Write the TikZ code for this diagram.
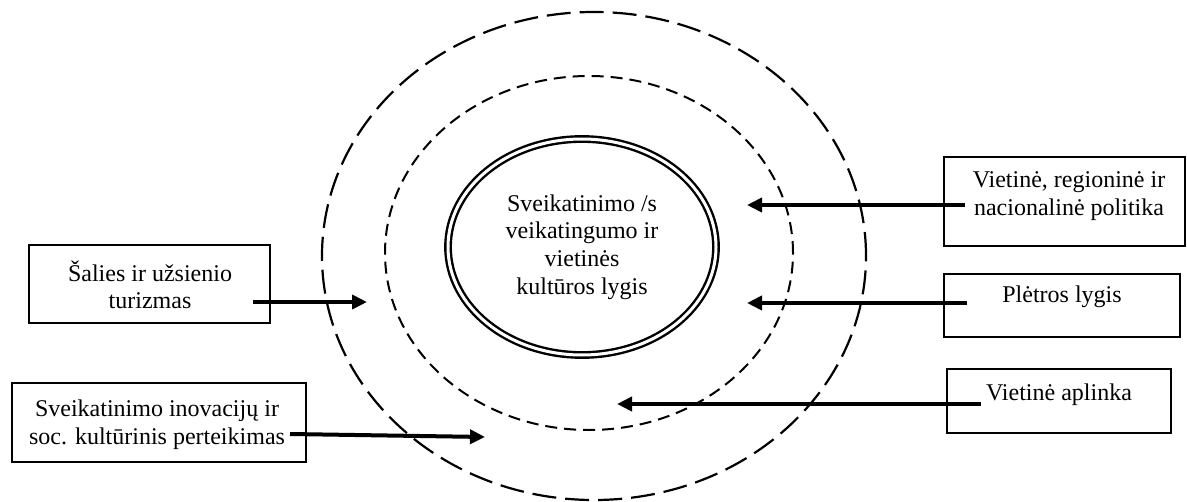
\documentclass[tikz,border=0pt]{standalone}
\usepackage{fontspec}
\setmainfont{Liberation Serif}
\usetikzlibrary{shapes.geometric,arrows.meta}
\begin{document}
\begin{tikzpicture}[x=0.5pt,y=-0.5pt,
  txt/.style={font=\fontsize{12pt}{13.8pt}\selectfont,align=center,inner sep=0pt},
  box/.style={draw,line width=0.6pt,inner sep=0pt},
  outerring/.style={draw,ellipse,inner sep=0pt,line width=1.1pt,dash pattern=on 12pt off 4.5pt},
  innerring/.style={draw,ellipse,inner sep=0pt,line width=1pt,dash pattern=on 6pt off 3.5pt},
  core/.style={draw,ellipse,inner sep=0pt,double,line width=1.2pt,double distance=1.5pt,font=\fontsize{12pt}{13.8pt}\selectfont,align=center},
  arr/.style={-{Triangle[length=7.5pt,width=7pt]},line width=2pt}]
\useasboundingbox (0,0) rectangle (1187,502);

% rings
\node[outerring,minimum width=272pt,minimum height=244pt] (outer) at (594,256) {};
\node[innerring,minimum width=204pt,minimum height=177pt] (inner) at (589,253) {};
\node[core,minimum width=134pt,minimum height=108pt] (core) at (582,247)
  {Sveikatinimo /s\\veikatingumo ir\\vietinės\\kultūros lygis};

% boxes
\node[box,minimum width=120.5pt,minimum height=39pt] (b1) at (149.5,284) {};
\node[txt] (t1) at (150,285) {Šalies ir užsienio\\turizmas};
\node[box,minimum width=147pt,minimum height=39.5pt] (b2) at (159,422.5) {};
\node[txt] (t2) at (157,425) {Sveikatinimo inovacijų ir\\soc. kultūrinis perteikimas};
\node[box,minimum width=120.5pt,minimum height=44.5pt] (b3) at (1064.5,201.5) {};
\node[txt] (t3) at (1069,196) {Vietinė, regioninė ir\\nacionalinė politika};
\node[box,minimum width=118pt,minimum height=31.5pt] (b4) at (1062,305.5) {};
\node[txt] (t4) at (1062,297) {Plėtros lygis};
\node[box,minimum width=112pt,minimum height=32pt] (b5) at (1059,401) {};
\node[txt] (t5) at (1059,395) {Vietinė aplinka};

% arrow end points
\coordinate (s1) at (253,302); \coordinate (e1) at (367,302);
\coordinate (s2) at (290,434); \coordinate (e2) at (485,437);
\coordinate (s3) at (965,205); \coordinate (e3) at (747,205);
\coordinate (s4) at (967,303); \coordinate (e4) at (747,303);
\coordinate (s5) at (981,404); \coordinate (e5) at (617,404);

\draw[arr] (s1) -- (e1);
\draw[arr] (s2) -- (e2);
\draw[arr] (s3) -- (e3);
\draw[arr] (s4) -- (e4);
\draw[arr] (s5) -- (e5);
\end{tikzpicture}
\end{document}
